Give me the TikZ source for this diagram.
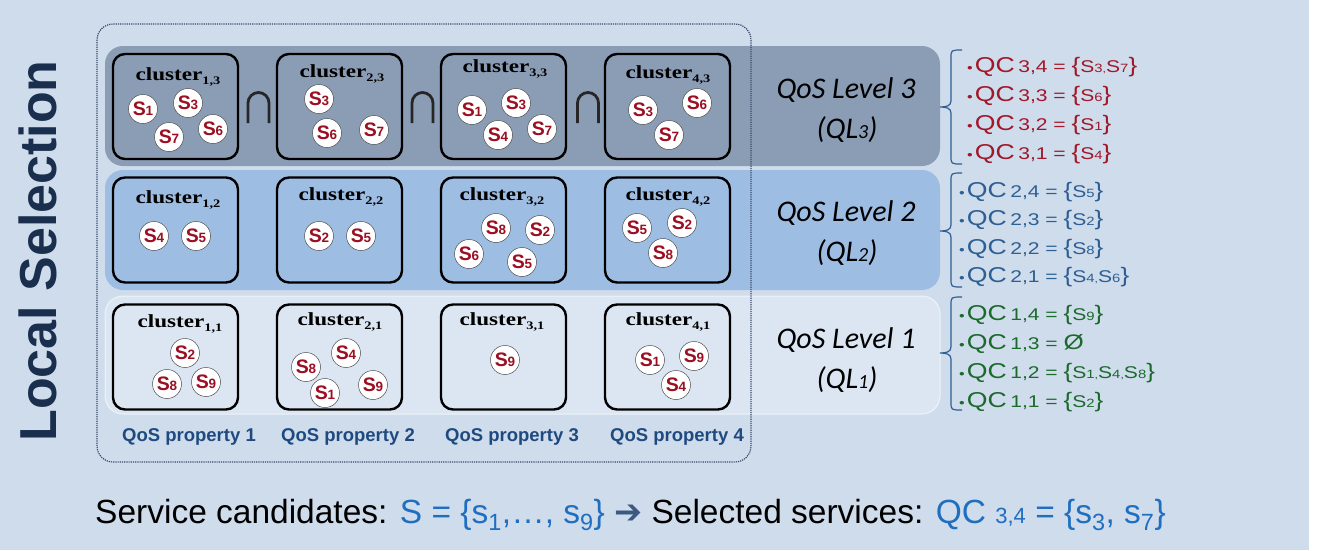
\documentclass[tikz,border=0pt]{standalone}
\usepackage{fontspec}
\setmainfont{Liberation Sans}
\newfontfamily\serifb{Liberation Serif}
\newfontfamily\carl{Carlito}
\newfontfamily\dejavu{DejaVu Sans}
\definecolor{bg}{HTML}{CFDCEC}
\definecolor{bandC}{HTML}{8A9DB5}
\definecolor{bandB}{HTML}{9EBDE3}
\definecolor{bandA}{HTML}{DCE6F3}
\definecolor{sred}{HTML}{9C0F22}
\definecolor{qcred}{HTML}{A01829}
\definecolor{qcblue}{HTML}{2D5F93}
\definecolor{qcgreen}{HTML}{1B6A2C}
\definecolor{navy}{HTML}{1A2E4E}
\definecolor{propblue}{HTML}{1F4A80}
\definecolor{bracec}{HTML}{2F5E93}
\definecolor{bottomblue}{HTML}{1F6EC0}
\definecolor{arrowc}{HTML}{3C5A80}
\definecolor{dotc}{HTML}{3A4A6A}
\newcommand\sv[1]{{\fontsize{19.5}{19.5}\selectfont S}\kern-0.3pt{\fontsize{13.5}{13.5}\selectfont #1}}
\newcommand\cl[1]{\scalebox{1.25}[1]{\serifb\bfseries\fontsize{18.5}{18.5}\selectfont cluster\raisebox{-4pt}{\fontsize{11.5}{11.5}\selectfont #1}}}
\newcommand\ql[1]{(QL{\fontsize{20}{20}\selectfont #1})}
\newcommand\qs[1]{{\fontsize{17}{17}\selectfont S}{\fontsize{12}{12}\selectfont #1}}
\newcommand\qcpre[1]{{\fontsize{13}{13}\selectfont\textbullet}\,{\fontsize{21.5}{21.5}\selectfont QC} {\fontsize{17}{17}\selectfont #1 = }}
\newcommand\qc[2]{\scalebox{1.24}[1]{\qcpre{#1}{\fontsize{21}{21}\selectfont\{}#2{\fontsize{21}{21}\selectfont\}}}}
\begin{document}
\begin{tikzpicture}[x=1pt,y=-1pt,
  clus/.style={draw=black, line width=2.4pt, rounded corners=12pt, minimum width=125pt, minimum height=105pt, inner sep=0pt},
  clab/.style={inner sep=0pt},
  svc/.style={circle, fill=white, draw=gray!60!black, line width=0.5pt, minimum size=29pt, inner sep=0pt, text=sred, font=\bfseries},
  capline/.style={draw=black!85, line width=2.8pt},
  lvl/.style={inner sep=0pt, font=\carl\itshape\fontsize{30}{30}\selectfont},
  prop/.style={inner sep=0pt, text=propblue, font=\bfseries\fontsize{18.5}{18.5}\selectfont},
  qcl/.style={anchor=west, inner sep=0pt},
  brc/.style={draw=bracec, line width=1.2pt}
]
\useasboundingbox (0,0) rectangle (1322,550);
\fill[bg] (0,0) rectangle (1309,550);
% bands
\fill[bandC, rounded corners=18pt] (105,46) rectangle (940,166);
\fill[bandB, rounded corners=18pt] (105,170) rectangle (940,290);
\fill[bandA, rounded corners=18pt] (105,296) rectangle (940,414);
\draw[white, opacity=0.6, line width=1pt, rounded corners=18pt] (105,296) rectangle (940,414);
% local selection
\node[rotate=90, inner sep=0pt, text=navy, font=\bfseries\fontsize{52}{52}\selectfont] (ls) at (38,251) {Local Selection};
% clusters
\foreach \r/\y in {3/106.5, 2/230, 1/357}{
  \foreach \c/\x in {1/175.5, 2/339.5, 3/503.5, 4/667.5}{
    \node[clus] (c\c\r) at (\x,\y) {};
  }
}
% labels
\node[clab] (l13) at (178,77) {\cl{1,3}};
\node[clab] (l23) at (342,74) {\cl{2,3}};
\node[clab] (l33) at (505,69) {\cl{3,3}};
\node[clab] (l43) at (668,75) {\cl{4,3}};
\node[clab] (l12) at (178,200) {\cl{1,2}};
\node[clab] (l22) at (341,197) {\cl{2,2}};
\node[clab] (l32) at (502,197) {\cl{3,2}};
\node[clab] (l42) at (668,197) {\cl{4,2}};
\node[clab] (l11) at (180,324) {\cl{1,1}};
\node[clab] (l21) at (340,322) {\cl{2,1}};
\node[clab] (l31) at (502,322) {\cl{3,1}};
\node[clab] (l41) at (668,322) {\cl{4,1}};
% intersections
\foreach \x in {258.5, 422.5, 588}{
  \draw[capline] (\x-10.5,123) -- (\x-10.5,103) arc[start angle=180, end angle=360, radius=10.5] -- (\x+10.5,123);
}
% services row 3
\node[svc] (s13a) at (143,109) {\sv1};
\node[svc] (s13b) at (188,103) {\sv3};
\node[svc] (s13c) at (169,137) {\sv7};
\node[svc] (s13d) at (213,129) {\sv6};
\node[svc] (s23a) at (319,99) {\sv3};
\node[svc] (s23b) at (327,133) {\sv6};
\node[svc] (s23c) at (374,130) {\sv7};
\node[svc] (s33a) at (472,110) {\sv1};
\node[svc] (s33b) at (516,103) {\sv3};
\node[svc] (s33c) at (498,135) {\sv4};
\node[svc] (s33d) at (542,129) {\sv7};
\node[svc] (s43a) at (643,110) {\sv3};
\node[svc] (s43b) at (697,103) {\sv6};
\node[svc] (s43c) at (669,135) {\sv7};
% row 2
\node[svc] (s12a) at (154,236) {\sv4};
\node[svc] (s12b) at (196,236) {\sv5};
\node[svc] (s22a) at (319,236) {\sv2};
\node[svc] (s22b) at (361,236) {\sv5};
\node[svc] (s32a) at (496,228) {\sv8};
\node[svc] (s32b) at (540,230) {\sv2};
\node[svc] (s32c) at (469,254) {\sv6};
\node[svc] (s32d) at (522,262) {\sv5};
\node[svc] (s42a) at (637,228) {\sv5};
\node[svc] (s42b) at (682,223) {\sv2};
\node[svc] (s42c) at (663,253) {\sv8};
% row 1
\node[svc] (s11a) at (185,353) {\sv2};
\node[svc] (s11b) at (167,384) {\sv8};
\node[svc] (s11c) at (206,382) {\sv9};
\node[svc] (s21a) at (346,353) {\sv4};
\node[svc] (s21b) at (306,367) {\sv8};
\node[svc] (s21c) at (325,393) {\sv1};
\node[svc] (s21d) at (373,385) {\sv9};
\node[svc] (s31a) at (505,360) {\sv9};
\node[svc] (s41a) at (650,360) {\sv1};
\node[svc] (s41b) at (694,356) {\sv9};
\node[svc] (s41c) at (676,385) {\sv4};
% properties
\node[prop] (p1) at (189,437) {QoS property 1};
\node[prop] (p2) at (348,437) {QoS property 2};
\node[prop] (p3) at (512,437) {QoS property 3};
\node[prop] (p4) at (677,437) {QoS property 4};
% levels
\node[lvl] (q3) at (846,90) {QoS Level 3};
\node[lvl] (q3b) at (847,130) {\ql3};
\node[lvl] (q2) at (846,213) {QoS Level 2};
\node[lvl] (q2b) at (847,253) {\ql2};
\node[lvl] (q1) at (846,340) {QoS Level 1};
\node[lvl] (q1b) at (847,380) {\ql1};
% braces
\foreach \t/\m/\b in {50/107/164, 173/231/287, 297/353/410}{
  \draw[brc] (962,\t) .. controls (951,\t) and (951,\t) .. (951,\t+8) -- (951,\m-6) .. controls (951,\m-1) and (946,\m) .. (940,\m) .. controls (946,\m) and (951,\m+1) .. (951,\m+6) -- (951,\b-8) .. controls (951,\b) and (951,\b) .. (962,\b);
}
% QC lists
\begin{scope}[text=qcred]
\node[qcl] (r4) at (967,67) {\qc{3,4}{\qs3,\qs7}};
\node[qcl] (r3) at (967,96) {\qc{3,3}{\qs6}};
\node[qcl] (r2) at (967,125) {\qc{3,2}{\qs1}};
\node[qcl] (r1) at (967,154) {\qc{3,1}{\qs4}};
\end{scope}
\begin{scope}[text=qcblue]
\node[qcl] (u4) at (959,192) {\qc{2,4}{\qs5}};
\node[qcl] (u3) at (959,220) {\qc{2,3}{\qs2}};
\node[qcl] (u2) at (959,249) {\qc{2,2}{\qs8}};
\node[qcl] (u1) at (959,277) {\qc{2,1}{\qs4,\qs6}};
\end{scope}
\begin{scope}[text=qcgreen]
\node[qcl] (g4) at (959,315) {\qc{1,4}{\qs9}};
\node[qcl] (g3) at (959,344) {\scalebox{1.24}[1]{\qcpre{1,3}{\fontsize{21}{21}\selectfont Ø}}};
\node[qcl] (g2) at (959,373) {\qc{1,2}{\qs1,\qs4,\qs8}};
\node[qcl] (g1) at (959,402) {\qc{1,1}{\qs2}};
\end{scope}
% bottom line
\node[anchor=west, inner sep=0pt] (bottom) at (95,515) {\fontsize{33.5}{33.5}\selectfont Service candidates: \textcolor{bottomblue}{S = \{s\textsubscript{1},\ldots, s\textsubscript{9}\}} \textcolor{arrowc}{\dejavu\bfseries ➔} Selected services: \textcolor{bottomblue}{QC {\fontsize{22}{22}\selectfont 3,4} = \{s\textsubscript{3}, s\textsubscript{7}\}}};
% dotted frame
\draw[dotc, densely dotted, line width=1.2pt, rounded corners=16pt] (97,24) rectangle (751,462);
\end{tikzpicture}
\end{document}
